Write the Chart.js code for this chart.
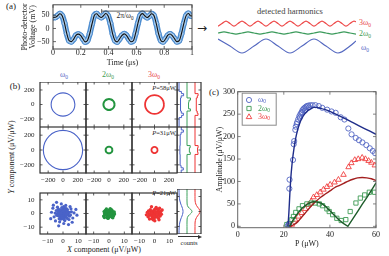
<!DOCTYPE html>
<html>
<head>
<meta charset="utf-8">
<script src="https://cdn.jsdelivr.net/npm/chart.js@4.4.1/dist/chart.umd.min.js"></script>
<style>
  html, body { margin: 0; padding: 0; background: #fff; }
  #fig { position: relative; width: 389px; height: 256px; overflow: hidden; font-family: 'Liberation Serif', 'DejaVu Serif', serif; color: #222; }
  #fig canvas { position: absolute; }
  .t { position: absolute; white-space: nowrap; line-height: 1; transform: translate(-50%, -50%); }
  .r { transform: translate(-100%, -50%); }
  sub { font-size: 68%; vertical-align: -0.3em; line-height: 0; }
  .blue { color: #5468c6; } .green { color: #3d9a52; } .red { color: #e8484b; }
</style>
</head>
<body>
<div id="fig">
  <div class="t" style="left:11px;top:6px;font-size:9px">(a)</div>
  <div class="t" style="left:125px;top:15.5px;font-size:7.5px">2π/ω<sub>0</sub></div>
  <div class="t" style="left:202px;top:28px;font-size:12px;font-family:'DejaVu Sans'">→</div>
  <div class="t" style="left:290px;top:11px;font-size:8.5px;color:#444">detected harmonics</div>
  <div class="t red" style="left:365px;top:23px;font-size:8px">3ω<sub>0</sub></div>
  <div class="t green" style="left:365px;top:33.5px;font-size:8px">2ω<sub>0</sub></div>
  <div class="t blue" style="left:365px;top:48px;font-size:8px">ω<sub>0</sub></div>
  <div class="t" style="left:15px;top:86px;font-size:9px">(b)</div>
  <div class="t blue" style="left:64px;top:75px;font-size:8px">ω<sub>0</sub></div>
  <div class="t green" style="left:108px;top:75px;font-size:8px">2ω<sub>0</sub></div>
  <div class="t red" style="left:154px;top:75px;font-size:8px">3ω<sub>0</sub></div>
  <div class="t r" style="left:176px;top:88px;font-size:6.5px"><i>P</i>=58μW</div>
  <div class="t r" style="left:176px;top:133px;font-size:6.5px"><i>P</i>=31μW</div>
  <div class="t r" style="left:176px;top:193px;font-size:6.5px"><i>P</i>=21μW</div>
  <div class="t" style="left:12px;top:157px;font-size:8px;transform:translate(-50%,-50%) rotate(-90deg)"><i>Y</i> component (μV/μW)</div>
  <div class="t" style="left:104px;top:250px;font-size:8px"><i>X</i> component (μV/μW)</div>
  <div class="t" style="left:189px;top:243px;font-size:6.5px">counts</div>
  <div style="position:absolute;left:178px;top:236px;width:20px;height:0;border-top:1px solid #333"></div>
  <div style="position:absolute;left:198px;top:234.5px;width:0;height:0;border-left:4px solid #333;border-top:2px solid transparent;border-bottom:2px solid transparent"></div>
  <div class="t" style="left:214px;top:92px;font-size:9px">(c)</div>
</div>
<script>
'use strict';
const SERIF = "'Liberation Serif', 'DejaVu Serif', serif";
Chart.defaults.font.family = SERIF;
const fig = document.getElementById('fig');

// tick values
const tickTime = [0, 0.2, 0.4, 0.6, 0.8, 1];
const tickVolt = [-50, 0, 50];
const tickRing = [-200, 0, 200];
const tickCloud = [-10, 0, 10];
const tickPower = [0, 20, 40, 60];
const tickAmp = [0, 50, 100, 150, 200, 250, 300];

// (a) photo-detector trace: time in us, voltage in mV
const timeUs = [0, 0.017, 0.033, 0.050, 0.066, 0.083, 0.099, 0.116, 0.132, 0.149,
  0.165, 0.182, 0.198, 0.215, 0.231, 0.248, 0.264, 0.281, 0.297, 0.314,
  0.330, 0.347, 0.363, 0.380, 0.396, 0.413, 0.429, 0.446, 0.462, 0.479,
  0.495, 0.512, 0.528, 0.545, 0.561, 0.578, 0.594, 0.611, 0.627, 0.644,
  0.660, 0.677, 0.693, 0.710, 0.726, 0.743, 0.759, 0.776, 0.792, 0.809,
  0.825, 0.842, 0.858, 0.875, 0.891, 0.908, 0.924, 0.941, 0.957, 0.974,
  0.990, 1.000];
const voltage = [42, 42.5, 48.5, 56, 48, 19.5, -19, -46.5, -50, -40.5,
  -26, -21.5, -26.5, -39, -51, -45.5, -20, 18, 49.5, 56,
  47.5, 42, 48.5, 57, 48, 19.5, -20.5, -46, -51, -39.5,
  -27, -20.5, -26, -40, -50.5, -46.5, -19, 19.5, 48.5, 56.5,
  48.5, 41.5, 47.5, 56, 49, 18.5, -19.5, -45.5, -50.5, -40,
  -26.5, -21, -27, -39.5, -50, -46, -20, 18.5, 48, 57,
  48, 47];
const periodMark = [0.35, 0.705];
const periodLevel = 66;

// detected harmonics, x in cycles of each harmonic, normalised amplitude
const wave1X = [0, 0.25, 0.5, 0.75, 1, 1.25, 1.5, 1.75, 2, 2.25, 2.5, 2.75, 2.875];
const wave1Y = [1, 0, -1, 0, 1, 0, -1, 0, 1, 0, -1, 0, 0.71];
const wave2X = [0, 0.25, 0.5, 0.75, 1, 1.25, 1.5, 1.75, 2, 2.25, 2.5, 2.75,
  3, 3.25, 3.5, 3.75, 4, 4.25, 4.5, 4.75, 5, 5.25, 5.5, 5.75];
const wave2Y = [0, 1, 0, -1, 0, 1, 0, -1, 0, 1, 0, -1,
  0, 1, 0, -1, 0, 1, 0, -1, 0, 1, 0, -1];
const wave3X = [0, 0.25, 0.5, 0.75, 1, 1.25, 1.5, 1.75, 2, 2.25, 2.5, 2.75,
  3, 3.25, 3.5, 3.75, 4, 4.25, 4.5, 4.75, 5, 5.25, 5.5, 5.75,
  6, 6.25, 6.5, 6.75, 7, 7.25, 7.5, 7.75, 8, 8.25, 8.5, 8.625];
const wave3Y = [-1, 0, 1, 0, -1, 0, 1, 0, -1, 0, 1, 0,
  -1, 0, 1, 0, -1, 0, 1, 0, -1, 0, 1, 0,
  -1, 0, 1, 0, -1, 0, 1, 0, -1, 0, 1, 0.71];
const waveAmp = [1, 0.15, 0.36];
const waveShift = [0, 1.86, 3.2];

// (b) X/Y components in uV/uW
const ring58w1 = [[160, 0], [148, 61], [113, 113], [61, 148], [0, 160], [-61, 148], [-113, 113], [-148, 61],
  [-160, 0], [-148, -61], [-113, -113], [-61, -148], [0, -160], [61, -148], [113, -113], [148, -61]];
const ring58w2 = [[75, 0], [69, 29], [53, 53], [29, 69], [0, 75], [-29, 69], [-53, 53], [-69, 29],
  [-75, 0], [-69, -29], [-53, -53], [-29, -69], [0, -75], [29, -69], [53, -53], [69, -29]];
const ring58w3 = [[130, 0], [120, 50], [92, 92], [50, 120], [0, 130], [-50, 120], [-92, 92], [-120, 50],
  [-130, 0], [-120, -50], [-92, -92], [-50, -120], [0, -130], [50, -120], [92, -92], [120, -50]];
const ring31w1 = [[265, 0], [245, 101], [187, 187], [101, 245], [0, 265], [-101, 245], [-187, 187], [-245, 101],
  [-265, 0], [-245, -101], [-187, -187], [-101, -245], [0, -265], [101, -245], [187, -187], [245, -101]];
const ring31w2 = [[45, 0], [42, 17], [32, 32], [17, 42], [0, 45], [-17, 42], [-32, 32], [-42, 17],
  [-45, 0], [-42, -17], [-32, -32], [-17, -42], [0, -45], [17, -42], [32, -32], [42, -17]];
const ring31w3 = [[42, 0], [39, 16], [30, 30], [16, 39], [0, 42], [-16, 39], [-30, 30], [-39, 16],
  [-42, 0], [-39, -16], [-30, -30], [-16, -39], [0, -42], [16, -39], [30, -30], [39, -16]];
const cloud21w1 = [[0, 0], [1.5, 0.5], [-1.2, 1.4], [0.8, -1.6], [-2.0, -0.6], [2.4, 1.8], [-0.4, 2.6], [1.1, -3.0],
  [-2.8, 1.9], [3.2, -0.9], [-1.7, -2.7], [0.3, 3.4], [2.9, 2.8], [-3.4, -1.5], [1.9, -2.2], [-0.9, -0.8],
  [0.6, 1.2], [-2.4, 0.4], [3.6, 0.6], [-0.2, -3.6], [2.2, 3.5], [-3.1, 3.0], [1.0, 4.0], [-3.8, -0.2],
  [4.2, -2.0], [-1.5, -4.2], [2.8, -3.6], [-4.4, 2.2], [5.5, 1.2], [-5.8, -2.4], [1.8, 5.9], [-2.2, -6.1],
  [6.4, -3.3], [-6.6, 3.9], [4.6, 5.1], [-4.9, -5.4], [7.2, 0.4], [-7.5, 0.9], [0.5, -7.3], [-1.1, 7.0],
  [8.4, 3.0], [-8.0, -3.8], [3.6, -8.1], [-4.2, 8.2], [6.0, -6.4], [-6.3, 6.1], [9.1, -1.2], [-2.8, -9.0],
  [4.9, -1.1], [-5.1, 0.3], [0.4, 5.0], [1.2, -5.2], [-3.6, 4.6], [5.2, 3.4], [-1.0, -1.9], [1.7, 2.2],
  [-2.5, -3.8], [3.9, -4.4], [0.3, -0.4], [-0.6, 0.3], [1.0, 1.0], [-1.3, -1.2], [2.0, -0.3], [-0.1, 1.9],
  [0.4, -2.3], [-2.6, -1.6], [1.3, 3.0], [-1.9, 2.9], [3.0, 1.2], [-3.2, 0.9], [2.1, -1.2], [-0.7, -2.9],
  [0.9, 2.4], [-1.5, 0.2], [4.3, 0.9], [-4.1, -1.2], [0.7, -4.5], [-0.8, 4.4]];
const cloud21w2 = [[0, 0], [1.0, 0.6], [-0.8, 1.1], [0.5, -1.2], [-1.4, -0.5], [1.8, 1.4], [-0.3, 2.0], [0.9, -2.1],
  [-2.0, 1.3], [2.3, -0.7], [-1.2, -2.0], [0.2, 2.6], [2.1, 2.0], [-2.5, -1.0], [1.4, -1.7], [-0.6, -0.5],
  [0.4, 0.9], [-1.8, 0.2], [2.7, 0.3], [-0.1, -2.7], [1.6, 2.8], [-2.4, 2.3], [-2.9, -0.1], [3.0, -1.6],
  [-1.1, -3.1], [2.0, -2.7], [-3.2, 1.4], [3.4, 1.1], [-3.5, -1.9], [0.8, 3.5], [-0.6, -3.6], [3.6, -0.4],
  [-1.7, 3.3], [2.5, -3.2], [-3.0, -3.0], [1.2, 0.1], [-0.5, 1.5], [0.1, -0.6]];
const cloud21w3 = [[0, 0], [1.2, 0.8], [-1.0, 1.3], [0.7, -1.5], [-1.7, -0.6], [2.2, 1.7], [-0.4, 2.4], [1.0, -2.6],
  [-2.5, 1.6], [2.8, -0.8], [-1.5, -2.4], [0.3, 3.1], [2.6, 2.5], [-3.0, -1.3], [1.7, -2.0], [-0.8, -0.7],
  [0.5, 1.1], [-2.1, 0.3], [3.3, 0.5], [-0.2, -3.3], [2.0, 3.2], [-2.8, 2.7], [-3.6, -0.2], [3.8, -1.9],
  [-1.4, -3.8], [2.6, -3.3], [-4.0, 1.9], [4.2, 1.5], [-4.3, -2.4], [1.1, 4.4], [-0.9, -4.6], [4.6, -0.5],
  [-4.8, 0.8], [3.4, 3.8], [-3.3, -4.0], [0.2, -5.3], [5.1, 2.6], [-2.0, 4.9], [3.0, -4.6], [-5.4, -1.0],
  [1.5, 0.2], [-0.3, -1.6]];

// histograms of the Y component (counts, arbitrary units)
const histEdges = [-300, -270, -240, -210, -180, -150, -120, -90, -60, -30, 0,
  30, 60, 90, 120, 150, 180, 210, 240, 270, 300];
const hist58w1 = [0, 0, 0, 0.3, 2.6, 4.4, 2.3, 1.7, 1.5, 1.4, 1.3, 1.5, 1.8, 2.2, 4.6, 2.4, 0.2, 0, 0, 0];
const hist58w2 = [0, 0, 0, 0, 0, 0, 0, 3.4, 1.9, 1.5, 1.4, 2.0, 3.5, 0, 0, 0, 0, 0, 0, 0];
const hist58w3 = [0, 0, 0, 0, 0, 3.0, 2.2, 1.5, 1.2, 1.1, 1.1, 1.3, 1.6, 2.3, 3.1, 0, 0, 0, 0, 0];
const hist31w1 = [2.2, 4.3, 2.1, 1.5, 1.3, 1.1, 1.0, 1.0, 0.9, 0.9, 0.9, 0.9, 1.0, 1.0, 1.1, 1.3, 1.5, 2.1, 4.4, 2.3];
const hist31w2 = [0, 0, 0, 0, 0, 0, 0, 0, 3.3, 2.3, 2.4, 3.2, 0, 0, 0, 0, 0, 0, 0, 0];
const hist31w3 = [0, 0, 0, 0, 0, 0, 0, 0, 3.0, 2.5, 2.6, 3.1, 0, 0, 0, 0, 0, 0, 0, 0];
const histY21 = [-15, -10, -7, -5, -4, -3, -2, -1, 0, 1, 2, 3, 4, 5, 7, 10, 15];
const hist21w1 = [0, 0.2, 0.9, 1.8, 2.4, 3.0, 3.5, 3.9, 4.0, 3.9, 3.5, 3.0, 2.4, 1.8, 0.9, 0.2, 0];
const hist21w2 = [0, 0, 0, 0.1, 0.4, 1.2, 2.7, 4.3, 5.0, 4.3, 2.7, 1.2, 0.4, 0.1, 0, 0, 0];
const hist21w3 = [0, 0, 0.1, 0.8, 1.5, 2.5, 3.7, 4.6, 5.0, 4.6, 3.7, 2.5, 1.5, 0.8, 0.1, 0, 0];

// (c) amplitude (uV/uW) against power P (uW)
const seriesNames = ['ω0', '2ω0', '3ω0'];
const powerW1 = [21.8, 22.2, 22.4, 22.5, 24.0, 24.3, 24.5, 25.0, 25.2, 25.6, 25.8, 26.2, 26.7, 26.9, 27.2, 27.6,
  27.9, 28.1, 28.6, 29.0, 29.2, 29.5, 30.0, 30.6, 31.0, 31.5, 32.5, 33.7, 35.2, 36.7, 38.8, 40.7,
  42.5, 44.7, 46.3, 48.0, 49.4, 51.2, 52.6, 54.1, 55.8, 57.3, 58.6, 59.6];
const ampW1 = [2, 5, 84, 104, 148, 183, 190, 215, 222, 228, 232, 238, 245, 242, 250, 253,
  255, 259, 262, 264, 258, 266, 268, 269, 265, 270, 270, 270, 268, 264, 260, 256,
  253, 243, 238, 218, 205, 197, 192, 187, 181, 174, 168, 163];
const powerW2 = [21.3, 22.3, 23.5, 24.2, 25.2, 26.6, 28.1, 30.0, 31.9, 33.6, 35.4, 36.8,
  38.7, 39.7, 41.2, 43.0, 44.9, 46.9, 48.8, 51.3, 53.2, 55.1, 57.1, 59.4];
const ampW2 = [4, 6, 15, 22, 31, 39, 46, 50, 52, 52, 50, 46, 39, 33, 26, 18, 13, 15, 33, 52, 63, 70, 76, 76];
const powerW3 = [22.3, 23.5, 24.9, 26.4, 27.8, 29.3, 30.7, 31.9, 32.9, 34.3, 35.8, 37.2, 38.7,
  40.1, 42.0, 43.7, 45.9, 48.1, 49.3, 50.8, 52.3, 54.0, 55.4, 56.8, 58.0, 59.5];
const ampW3 = [2, 4, 15, 22, 30, 39, 48, 56, 65, 70, 76, 82, 88,
  93, 98, 104, 115, 132, 141, 148, 150, 153, 150, 146, 142, 136];
const fitP1 = [21.8, 22.2, 22.6, 23.0, 23.5, 24, 25, 26, 27, 28, 29, 30, 31, 32, 33, 34, 36, 38, 40, 45, 50, 55, 60];
const fitA1 = [0, 30, 70, 105, 135, 158, 192, 215, 231, 242, 250, 256, 260, 263, 265, 265, 263, 260, 256, 244, 231, 218, 205];
const fitP2 = [22.5, 24, 26, 28, 30, 32, 33, 34, 36, 38, 40, 42, 44, 46, 47.8, 50, 52, 54, 56, 58, 60];
const fitA2 = [0, 14, 29, 41, 49, 54, 55, 54.5, 52, 45, 35, 24, 14, 6, 0, 17, 33, 49, 64, 80, 97];
const fitP3 = [22.5, 24, 26, 28, 30, 32, 34, 36, 38, 40, 42, 44, 46, 48, 50, 52, 54, 56, 58, 60];
const fitA3 = [0, 3, 10, 22, 34, 46, 56, 65, 72, 79, 86, 91, 96, 101, 105, 108, 109, 108, 106, 102];

const BLUE = '#4a63c8', GREEN = '#23943f', RED = '#ee3434';

// box round the plot area, with inward ticks
const framePlugin = {
  id: 'frame',
  afterDatasetsDraw(chart, args, o) {
    if (!o || o.hide) return;
    const ctx = chart.ctx, a = chart.chartArea;
    const xs = chart.scales.x, ys = chart.scales.y, t = o.tick || 3;
    ctx.save();
    ctx.strokeStyle = o.color || '#333';
    ctx.lineWidth = o.width || 1;
    ctx.strokeRect(a.left, a.top, a.right - a.left, a.bottom - a.top);
    ctx.lineWidth = 0.8;
    ctx.beginPath();
    if (!o.noX) {
      xs.ticks.forEach(k => {
        const p = xs.getPixelForValue(k.value);
        ctx.moveTo(p, a.bottom); ctx.lineTo(p, a.bottom - t);
        ctx.moveTo(p, a.top); ctx.lineTo(p, a.top + t);
      });
    }
    ys.ticks.forEach(k => {
      const p = ys.getPixelForValue(k.value);
      ctx.moveTo(a.left, p); ctx.lineTo(a.left + t, p);
      ctx.moveTo(a.right, p); ctx.lineTo(a.right - t, p);
    });
    ctx.stroke();
    ctx.restore();
  }
};

const bracketPlugin = {
  id: 'bracket',
  afterDatasetsDraw(chart) {
    const ctx = chart.ctx, x = chart.scales.x, y = chart.scales.y;
    const x0 = x.getPixelForValue(periodMark[0]), x1 = x.getPixelForValue(periodMark[1]);
    const yy = y.getPixelForValue(periodLevel);
    ctx.save();
    ctx.strokeStyle = '#333';
    ctx.lineWidth = 0.8;
    ctx.beginPath();
    ctx.moveTo(x0, yy); ctx.lineTo(x1, yy);
    ctx.moveTo(x0, yy - 2); ctx.lineTo(x0, yy + 2);
    ctx.moveTo(x1, yy - 2); ctx.lineTo(x1, yy + 2);
    ctx.stroke();
    ctx.restore();
  }
};

const legendPlugin = {
  id: 'boxLegend',
  afterDatasetsDraw(chart) {
    const ctx = chart.ctx, a = chart.chartArea;
    const x0 = a.left + 4.5, y0 = a.top + 1.5;
    ctx.save();
    ctx.fillStyle = '#fff';
    ctx.fillRect(x0, y0, 34, 32);
    ctx.strokeStyle = '#8a8a8a';
    ctx.lineWidth = 1;
    ctx.strokeRect(x0, y0, 34, 32);
    chart.data.datasets.filter(d => d.legend).forEach((d, i) => {
      const y = y0 + 6.8 + i * 8.5;
      ctx.strokeStyle = d.pointBorderColor;
      ctx.fillStyle = 'rgba(0,0,0,0)';
      ctx.lineWidth = 0.9;
      Chart.helpers.drawPoint(ctx, {pointStyle: d.pointStyle, radius: d.pointRadius, rotation: 0, borderWidth: 0.9}, x0 + 6.8, y);
      const name = d.label.slice(0, -1), sub = d.label.slice(-1);
      ctx.fillStyle = d.pointBorderColor;
      ctx.textBaseline = 'middle';
      ctx.textAlign = 'left';
      ctx.font = '8px ' + SERIF;
      ctx.fillText(name, x0 + 15.8, y);
      const w = ctx.measureText(name).width;
      ctx.font = '5.5px ' + SERIF;
      ctx.fillText(sub, x0 + 15.8 + w, y + 2);
    });
    ctx.restore();
  }
};

function lin(min, max, ticks, o) {
  o = o || {};
  return {
    type: 'linear', min: min, max: max,
    grid: {display: false, drawTicks: false},
    border: {display: false},
    afterBuildTicks: sc => { sc.ticks = (ticks || []).map(v => ({value: v})); },
    ticks: {
      display: !!o.labels, padding: o.pad || 0,
      maxRotation: 0, autoSkip: false, color: '#222',
      font: {family: SERIF, size: o.size || 8, lineHeight: 1},
      callback: v => String(v).replace('-', '\u2212')
    },
    title: {
      display: !!o.title, text: o.title || '', color: '#222',
      font: {family: SERIF, size: 8, lineHeight: 1}, padding: o.tpad || 0
    }
  };
}

function plot(rect, m, scales, datasets, frameOpts, extra) {
  const cv = document.createElement('canvas');
  const w = Math.round(rect[2] - rect[0] + m.l + m.r);
  const h = Math.round(rect[3] - rect[1] + m.t + m.b);
  cv.width = w;
  cv.height = h;
  cv.style.left = (rect[0] - m.l) + 'px';
  cv.style.top = (rect[1] - m.t) + 'px';
  cv.style.width = w + 'px';
  cv.style.height = h + 'px';
  fig.appendChild(cv);
  Object.keys(scales).forEach(k => {
    const s = scales[k];
    s.axis = k[0];
    s.position = k[0] === 'x' ? 'bottom' : 'left';
    if (k[0] === 'x') {
      s.afterFit = sc => { sc.height = k === 'x' ? m.b : 0; sc.paddingLeft = 0; sc.paddingRight = 0; };
    } else {
      s.afterFit = sc => { sc.width = k === 'y' ? m.l : 0; sc.paddingTop = 0; sc.paddingBottom = 0; };
    }
  });
  return new Chart(cv, {
    type: 'scatter',
    data: {datasets: datasets},
    options: {
      responsive: false, animation: false, events: [], devicePixelRatio: 1,
      layout: {padding: {left: 0, top: m.t, right: m.r, bottom: 0}},
      plugins: {legend: {display: false}, tooltip: {enabled: false}, frame: frameOpts},
      scales: scales
    },
    plugins: [framePlugin].concat(extra || [])
  });
}

const pairs = (xs, ys) => xs.map((x, i) => ({x: x, y: ys[i]}));
const fromPairs = arr => arr.map(p => ({x: p[0], y: p[1]}));

// ---- (a) ----
const trace = pairs(timeUs, voltage);
plot([53, 4, 192, 49], {l: 53, r: 6, t: 4, b: 21},
  {
    x: lin(0, 1, tickTime, {labels: true, pad: 0.3, title: 'Time (μs)', tpad: {top: 0, bottom: 3.2}}),
    y: lin(-78, 90, tickVolt, {labels: true, pad: 3.5, title: ['Photo-detector', 'Voltage (mV)'], tpad: {top: 21.2, bottom: 0}})
  },
  [
    {data: trace, showLine: true, borderColor: '#111', borderWidth: 1.1, pointRadius: 0, cubicInterpolationMode: 'monotone', order: 0},
    {data: trace, showLine: true, borderColor: '#a9cdef', borderWidth: 3, pointRadius: 0, cubicInterpolationMode: 'monotone', order: 1},
    {data: trace, showLine: true, borderColor: '#4f8fd1', borderWidth: 6, pointRadius: 2.6, pointBorderWidth: 0.8,
      pointBorderColor: '#3f80c8', pointBackgroundColor: '#a6cbee', cubicInterpolationMode: 'monotone', order: 2}
  ],
  {color: '#444', tick: 3}, [bracketPlugin]);

// detected harmonics
const waveSets = [[wave1X, wave1Y, 'x', '#5468c0'], [wave2X, wave2Y, 'x2', '#3a9a5a'], [wave3X, wave3Y, 'x3', '#ee4a4a']];
plot([218, 15, 356, 57], {l: 0, r: 0, t: 0, b: 0},
  {x: lin(0, 2.875), x2: lin(0, 5.75), x3: lin(0, 8.625), y: lin(-1.57, 4.43)},
  waveSets.map((wv, i) => ({
    xAxisID: wv[2],
    data: wv[0].map((x, j) => ({x: x, y: waveShift[i] + waveAmp[i] * wv[1][j]})),
    showLine: true, pointRadius: 0, borderColor: wv[3], borderWidth: 1.2,
    cubicInterpolationMode: 'monotone', clip: false
  })),
  {hide: true});

// ---- (b) ----
const colX = [[40, 86], [86, 132], [132, 177]];
const rowY = [[82, 127], [127, 173], [189, 234]];
const colors = [BLUE, GREEN, RED];
const ringRows = [[ring58w1, ring58w2, ring58w3], [ring31w1, ring31w2, ring31w3]];
const clouds = [cloud21w1, cloud21w2, cloud21w3];
const ringWidth = [1.1, 2, 1.8];
const cloudDot = [1.6, 1.7, 1.7];
const histBase = [2, 10, 18];
const histColors = ['#4a63c8', '#3aa05a', '#ee3434'];
const histRows = [[hist58w1, hist58w2, hist58w3], [hist31w1, hist31w2, hist31w3]];
const hist21 = [hist21w1, hist21w2, hist21w3];

function stepLine(counts, base, lim) {
  const pts = [{x: base + counts[0], y: -lim}];
  counts.forEach((c, i) => {
    pts.push({x: base + c, y: histEdges[i]}, {x: base + c, y: histEdges[i + 1]});
  });
  pts.push({x: base + counts[counts.length - 1], y: lim});
  return pts;
}

for (let r = 0; r < 3; r++) {
  const big = r < 2;
  const lim = big ? 310 : 15, tk = big ? tickRing : tickCloud;
  for (let c = 0; c < 3; c++) {
    let ds;
    if (big) {
      const pts = fromPairs(ringRows[r][c]);
      ds = [{data: pts.concat(pts.slice(0, 2)), showLine: true, pointRadius: 0,
        borderColor: colors[c], borderWidth: ringWidth[c], tension: 0.34}];
    } else {
      ds = [{data: fromPairs(clouds[c]), pointRadius: cloudDot[c], pointBorderWidth: 0,
        pointBackgroundColor: colors[c], backgroundColor: colors[c]}];
    }
    plot([colX[c][0], rowY[r][0], colX[c][1], rowY[r][1]],
      {l: c === 0 ? 40 : 6, r: 6, t: 0, b: r > 0 ? 13 : 0},
      {x: lin(-lim, lim, tk, {labels: r > 0, pad: 3.5, size: 7}),
       y: lin(-lim, lim, tk, {labels: c === 0, pad: 5.5, size: 7})},
      ds, {color: '#333', width: 1.2, tick: 2.5});
  }
  const hds = [0, 1, 2].map(k => ({
    data: big ? stepLine(histRows[r][k], histBase[k], lim)
      : histY21.map((y, i) => ({x: histBase[k] + hist21[k][i], y: y})),
    showLine: true, pointRadius: 0, borderColor: histColors[k], borderWidth: 1,
    tension: big ? 0 : 0.3
  }));
  plot([177, rowY[r][0], 201, rowY[r][1]], {l: 0, r: 3, t: 0, b: 0},
    {x: lin(0, 24), y: lin(-lim, lim, tk)},
    hds, {color: '#333', width: 1.2, tick: 2.5, noX: true});
}

// ---- (c) ----
const fitLine = (xs, ys, color, smooth) => ({data: pairs(xs, ys), showLine: true, pointRadius: 0,
  borderColor: color, borderWidth: 1.4, cubicInterpolationMode: smooth ? 'monotone' : 'default', tension: 0, order: 0});
const markSet = (xs, ys, color, style, rad, label) => ({label: label, legend: true, data: pairs(xs, ys),
  pointStyle: style, pointRadius: rad, pointBorderColor: color, borderColor: color,
  pointBackgroundColor: 'rgba(0,0,0,0)', pointBorderWidth: 0.9, order: 1});

plot([237.7, 91.7, 376, 227.7], {l: 37.7, r: 8, t: 6.7, b: 28.3},
  {
    x: lin(0, 60, tickPower, {labels: true, pad: 3.3, title: 'P (μW)', tpad: {top: 0, bottom: 8}}),
    y: lin(-3, 300, tickAmp, {labels: true, pad: 2.7, title: 'Amplitude (μV/μW)', tpad: {top: 15.5, bottom: 0}})
  },
  [
    markSet(powerW1, ampW1, '#5367c4', 'circle', 2.6, seriesNames[0]),
    markSet(powerW2, ampW2, '#3c9a52', 'rect', 3, seriesNames[1]),
    markSet(powerW3, ampW3, '#f04040', 'triangle', 3.2, seriesNames[2]),
    fitLine(fitP1, fitA1, '#1f2d8a', true),
    fitLine(fitP2, fitA2, '#1d5c2a', false),
    fitLine(fitP3, fitA3, '#a31f1f', true)
  ],
  {color: '#666', tick: 3}, [legendPlugin]);
</script>
</body>
</html>
